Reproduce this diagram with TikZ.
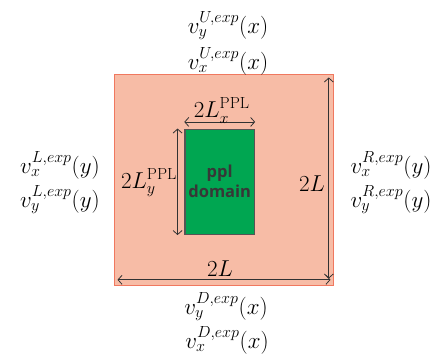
\documentclass[tikz,border=0pt]{standalone}
\usepackage{fix-cm}
\usepackage{amsmath}
\usepackage{fontspec}
\usetikzlibrary{arrows.meta}
\newfontfamily\pplfont{Open Sans}
\definecolor{salmonfill}{RGB}{247,188,166}
\definecolor{salmonedge}{RGB}{240,120,95}
\definecolor{pplgreen}{RGB}{0,166,81}
\definecolor{boxedge}{RGB}{85,85,85}
\definecolor{textgray}{RGB}{55,55,55}
\definecolor{arrowgray}{RGB}{50,50,50}

\begin{document}
\begin{tikzpicture}[
  >={Straight Barb[length=4pt,width=9pt]}, x=1pt, y=-1pt,
  simbox/.style={draw=salmonedge, fill=salmonfill, line width=1pt,
                 minimum width=219pt, minimum height=210pt, inner sep=0pt},
  pplbox/.style={draw=boxedge, fill=pplgreen, line width=1.5pt,
                 minimum width=66pt, minimum height=105pt, align=center,
                 text=textgray, font=\pplfont\bfseries\fontsize{16.5}{20}\selectfont},
  dim/.style={<->, thick, arrowgray},
  blabel/.style={font=\fontsize{23}{27}\selectfont, inner sep=0pt}
]
\useasboundingbox (0,0) rectangle (436,355);

\node[simbox](sim) at (223.5,180) {};
\node[pplbox](ppl) at (219.7,181.8) {ppl\\domain};

% dimension arrows
\coordinate (hL) at ([xshift=4pt,yshift=5.7pt]sim.south west);
\coordinate (hR) at ([xshift=-3pt,yshift=5.7pt]sim.south east);
\coordinate (vT) at ([xshift=-4.7pt,yshift=-3pt]sim.north east);
\coordinate (vB) at ([xshift=-4.7pt,yshift=7pt]sim.south east);
\coordinate (xL) at ([yshift=6.6pt]ppl.north west);
\coordinate (xR) at ([yshift=6.6pt]ppl.north east);
\coordinate (yT) at ([xshift=-6.7pt]ppl.north west);
\coordinate (yB) at ([xshift=-6.7pt]ppl.south west);
\draw[dim] (hL) -- (hR);
\draw[dim] (vT) -- (vB);
\draw[dim] (xL) -- (xR);
\draw[dim] (yT) -- (yB);

\node[blabel](lenx) at (221.7,110.5) {$2L_x^{\mathrm{PPL}}$};
\node[blabel](leny) at (149,183) {$2L_y^{\mathrm{PPL}}$};
\node[blabel](lenD) at (220,268.5) {$2L$};
\node[blabel](lenR) at (312,184) {$2L$};

\node[blabel](uy) at (228,26) {$v_y^{U,exp}(x)$};
\node[blabel](ux) at (228,61) {$v_x^{U,exp}(x)$};
\node[blabel](lx) at (60,165) {$v_x^{L,exp}(y)$};
\node[blabel](ly) at (60,200) {$v_y^{L,exp}(y)$};
\node[blabel](rx) at (391,165) {$v_x^{R,exp}(y)$};
\node[blabel](ry) at (391,200) {$v_y^{R,exp}(y)$};
\node[blabel](dy) at (226,307) {$v_y^{D,exp}(x)$};
\node[blabel](dx) at (227,340.5) {$v_x^{D,exp}(x)$};

\end{tikzpicture}
\end{document}
